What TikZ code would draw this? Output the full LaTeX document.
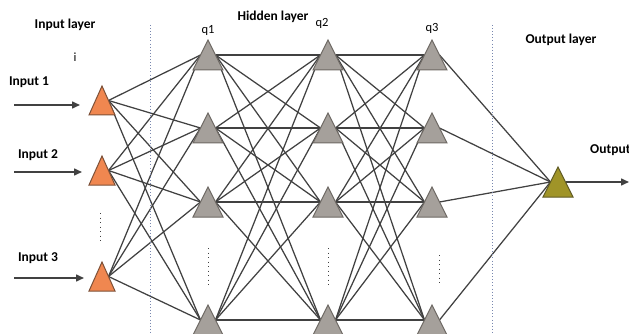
\documentclass[tikz,border=0pt]{standalone}
\usepackage{fontspec}
\setmainfont{Carlito}
\usetikzlibrary{shapes.geometric,arrows.meta,backgrounds}
\definecolor{inorange}{RGB}{240,135,80}
\definecolor{inedge}{RGB}{125,80,55}
\definecolor{hidgray}{RGB}{165,160,155}
\definecolor{hidedge}{RGB}{110,105,100}
\definecolor{outolive}{RGB}{160,148,40}
\definecolor{outedge}{RGB}{95,90,35}
\definecolor{linegray}{RGB}{65,65,65}
\definecolor{sepblue}{RGB}{120,135,175}
\tikzset{
  neuron/.style={isosceles triangle, isosceles triangle stretches, shape border rotate=90,
    minimum width=30pt, minimum height=30pt, inner sep=0pt, outer sep=0pt,
    line width=1pt, anchor=apex},
  inneuron/.style={neuron, fill=inorange, draw=inedge, minimum width=26pt, minimum height=29pt},
  hidneuron/.style={neuron, fill=hidgray, draw=hidedge},
  outneuron/.style={neuron, fill=outolive, draw=outedge},
  conn/.style={draw=linegray, line width=1.25pt},
  arr/.style={draw=linegray, line width=1.5pt, -{Triangle[length=8pt,width=7pt]}},
  sepline/.style={draw=sepblue, line width=0.9pt, dash pattern=on 0.9pt off 2.2pt},
  vdotline/.style={draw=linegray, line width=1pt, dash pattern=on 1pt off 3.5pt},
  lbl/.style={font=\bfseries\fontsize{13.5}{15}\selectfont, inner sep=0pt, text=black},
  qlbl/.style={font=\fontsize{12.5}{14}\selectfont, inner sep=0pt, text=black}
}
\begin{document}
\begin{tikzpicture}[x=1pt,y=-1pt]
\useasboundingbox (0,0) rectangle (629,334);
\clip (0,0) rectangle (629,334);

% separators
\coordinate (sepAt) at (150,25); \coordinate (sepAb) at (150,334);
\coordinate (sepBt) at (492,25); \coordinate (sepBb) at (492,334);
\draw[sepline] (sepAt) -- (sepAb);
\draw[sepline] (sepBt) -- (sepBb);

% input neurons
\node[inneuron] (i1) at (102,86) {};
\node[inneuron] (i2) at (102,156) {};
\node[inneuron] (i3) at (102,262) {};

% hidden neurons
\foreach \c/\x in {1/208,2/328,3/432}{
  \foreach \r/\y in {1/40,2/113,3/187,4/305}{
    \node[hidneuron] (h\c\r) at (\x,\y) {};
  }
}

% output neuron
\node[outneuron] (o) at (558,167) {};

% connectors
\begin{pgfonlayer}{background}
\foreach \a in {i1,i2,i3}{
  \foreach \r in {1,2,3,4}{
    \draw[conn] (\a.right side) -- (h1\r.left side);
  }
}
\foreach \p/\q in {1/2,2/3}{
  \foreach \r in {1,2,3,4}{
    \foreach \s in {1,2,3,4}{
      \draw[conn] (h\p\r.right side) -- (h\q\s.left side);
    }
  }
}
\foreach \r in {1,2,3,4}{
  \draw[conn] (h3\r.right side) -- (o.left side);
}
\coordinate (oend) at (629,182);
\draw[arr] (o.right side) -- (oend);
\end{pgfonlayer}

% input arrows
\coordinate (s1) at (14,105); \coordinate (e1) at (80,105);
\coordinate (s2) at (14,172); \coordinate (e2) at (82,172);
\coordinate (s3) at (14,278); \coordinate (e3) at (84,278);
\draw[arr] (s1) -- (e1);
\draw[arr] (s2) -- (e2);
\draw[arr] (s3) -- (e3);

% vertical dots
\coordinate (d0t) at (100,213); \coordinate (d0b) at (100,244);
\coordinate (d1t) at (208,248); \coordinate (d1b) at (208,286);
\coordinate (d2t) at (328,248); \coordinate (d2b) at (328,286);
\coordinate (d3t) at (439,255); \coordinate (d3b) at (439,286);
\draw[vdotline] (d0t) -- (d0b);
\draw[vdotline] (d1t) -- (d1b);
\draw[vdotline] (d2t) -- (d2b);
\draw[vdotline] (d3t) -- (d3b);

% labels
\node[lbl] (tin) at (65,25) {Input layer};
\node[qlbl] (ti) at (75,57) {i};
\node[lbl] (tin1) at (29,82) {Input 1};
\node[lbl] (tin2) at (38,155) {Input 2};
\node[lbl] (tin3) at (38,258) {Input 3};
\node[lbl] (thid) at (273,17) {Hidden layer};
\node[qlbl] (tq1) at (208,30) {q1};
\node[qlbl] (tq2) at (322,23) {q2};
\node[qlbl] (tq3) at (432,28) {q3};
\node[lbl] (tout) at (561,40) {Output layer};
\node[lbl, anchor=west] (toutp) at (590,150) {Output};
\end{tikzpicture}
\end{document}
